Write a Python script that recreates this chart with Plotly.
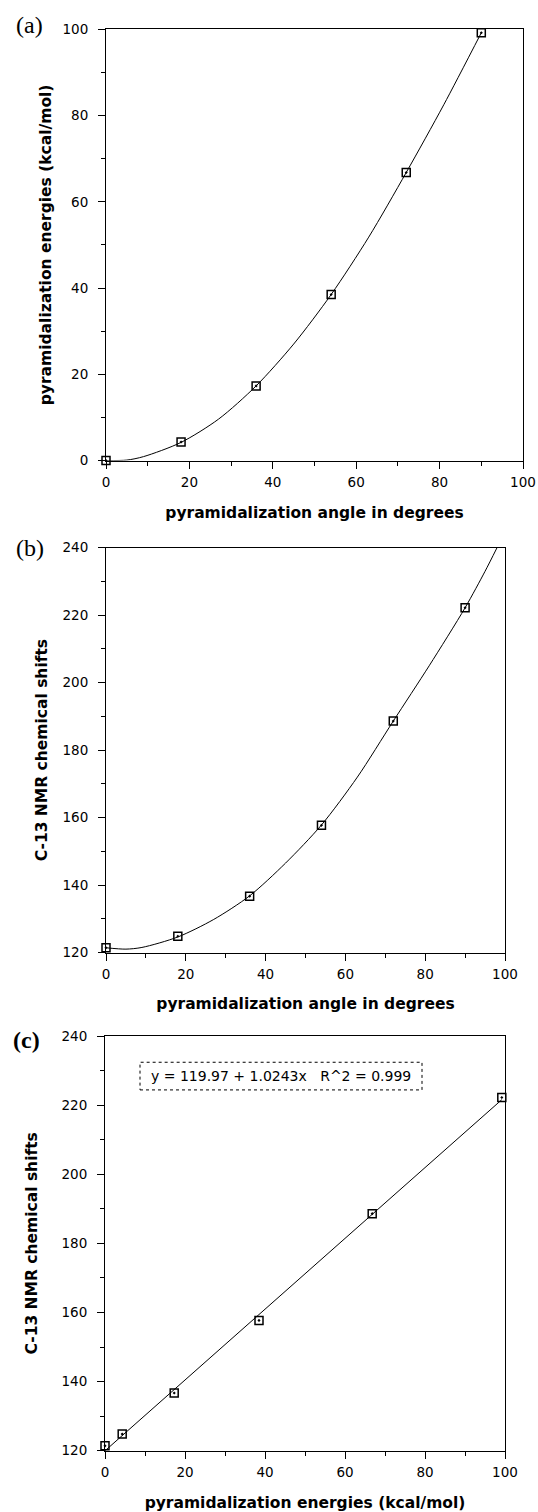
import plotly.graph_objects as go

# ---------------- data ----------------
angle_deg = [0, 18, 36, 54, 72, 90]
energy_kcal = [0.0, 4.3, 17.3, 38.5, 66.8, 99.2]
c13_shift = [121.4, 124.8, 136.7, 157.7, 188.6, 222.2]

# fitted curves as traced on the picture
curve_a_x = [0, 5, 9, 18, 27, 36, 45, 54, 63, 72, 81, 90]
curve_a_y = [0.0, 0.1, 0.9, 4.2, 9.6, 17.3, 27.0, 38.5, 51.8, 66.8, 82.5, 99.2]
curve_b_x = [0, 5, 9, 18, 27, 36, 45, 54, 63, 72, 81, 90, 95, 98]
curve_b_y = [121.4, 121.0, 121.5, 124.6, 129.8, 136.8, 146.5, 157.8, 172.0, 188.6, 205.0, 222.2, 233.0, 240.0]
fit_c_x = [0, 99.2]
fit_c_y = [119.97, 221.58]

x_title_angle = "pyramidalization angle in degrees"
x_title_energy = "pyramidalization energies (kcal/mol)"
y_title_energy = "pyramidalization energies (kcal/mol)"
y_title_shift = "C-13 NMR chemical shifts"
fit_label = "y = 119.97 + 1.0243x\u00a0\u00a0\u00a0R^2 = 0.999"

W, H = 538, 1512

def px(x):
    return x / W

def py(y):
    return 1 - y / H

tick_font = dict(family="DejaVu Sans", size=13.5, color="black")
title_font = dict(family="DejaVu Sans", size=15.5, color="black", weight="bold")

def axis(domain, rng, dtick, minor, title, standoff, anchor, labelgap):
    return dict(
        domain=domain, range=rng, tick0=0, dtick=dtick, anchor=anchor,
        ticks="outside", ticklen=7, tickwidth=1, tickcolor="black",
        showline=True, linecolor="black", linewidth=1, mirror=True,
        showgrid=False, zeroline=False,
        minor=dict(dtick=minor, tick0=0, ticks="outside", ticklen=4,
                   tickwidth=1, tickcolor="black", showgrid=False),
        tickfont=tick_font, ticklabelstandoff=labelgap,
        title=dict(text=title, font=title_font, standoff=standoff),
        automargin=False,
    )

fig = go.Figure()

line_style = dict(color="black", width=1)
marker_style = dict(symbol="square-open-dot", size=8, color="black",
                    line=dict(color="black", width=1.5))

# (a)
fig.add_trace(go.Scatter(x=curve_a_x, y=curve_a_y, mode="lines",
                         line=dict(color="black", width=1, shape="spline", smoothing=0.8),
                         xaxis="x", yaxis="y", cliponaxis=False, hoverinfo="skip"))
fig.add_trace(go.Scatter(x=angle_deg, y=energy_kcal, mode="markers", marker=marker_style,
                         xaxis="x", yaxis="y", cliponaxis=False))
# (b)
fig.add_trace(go.Scatter(x=curve_b_x, y=curve_b_y, mode="lines",
                         line=dict(color="black", width=1, shape="spline", smoothing=0.8),
                         xaxis="x2", yaxis="y2", cliponaxis=False, hoverinfo="skip"))
fig.add_trace(go.Scatter(x=angle_deg, y=c13_shift, mode="markers", marker=marker_style,
                         xaxis="x2", yaxis="y2", cliponaxis=False))
# (c)
fig.add_trace(go.Scatter(x=fit_c_x, y=fit_c_y, mode="lines", line=line_style,
                         xaxis="x3", yaxis="y3", cliponaxis=False, hoverinfo="skip"))
fig.add_trace(go.Scatter(x=energy_kcal, y=c13_shift, mode="markers", marker=marker_style,
                         xaxis="x3", yaxis="y3", cliponaxis=False))

fig.update_layout(
    width=W, height=H,
    margin=dict(l=0, r=0, t=0, b=0),
    paper_bgcolor="white", plot_bgcolor="white",
    showlegend=False,
    xaxis=axis([px(106), px(523)], [0, 100], 20, 10, x_title_angle, 18, "y", 2),
    yaxis=axis([py(460.5), py(29.3)], [0, 100], 20, 10, y_title_energy, 7, "x", 7),
    xaxis2=axis([px(106), px(505)], [0, 100], 20, 10, x_title_angle, 17, "y2", 2),
    yaxis2=axis([py(952.5), py(547.7)], [120, 240], 20, 10, y_title_shift, 11, "x2", 7),
    xaxis3=axis([px(105), px(505)], [0, 100], 20, 10, x_title_energy, 22, "y3", 2),
    yaxis3=axis([py(1450.7), py(1036)], [120, 240], 20, 10, y_title_shift, 20, "x3", 7),
    shapes=[dict(type="rect", xref="x3", yref="y3", x0=8.75, x1=79.25, y0=224.4, y1=232.4,
                 line=dict(color="black", width=1, dash="dot"), fillcolor="rgba(0,0,0,0)")],
    annotations=[
        dict(text=fit_label, xref="x3", yref="y3", x=44.0, y=228.4, showarrow=False,
             font=dict(family="DejaVu Sans", size=14, color="black"), xanchor="center", yanchor="middle"),
        dict(text="(a)", xref="paper", yref="paper", x=px(29), y=py(25), showarrow=False,
             font=dict(family="Liberation Serif", size=24, color="black"), xanchor="center", yanchor="middle"),
        dict(text="(b)", xref="paper", yref="paper", x=px(30), y=py(548), showarrow=False,
             font=dict(family="Liberation Serif", size=24, color="black"), xanchor="center", yanchor="middle"),
        dict(text="<b>(c)</b>", xref="paper", yref="paper", x=px(26), y=py(1040), showarrow=False,
             font=dict(family="Liberation Serif", size=24, color="black"), xanchor="center", yanchor="middle"),
    ],
)

fig.write_html("out.html", config={"displayModeBar": False},
               post_script="document.body.style.margin='0px';")
